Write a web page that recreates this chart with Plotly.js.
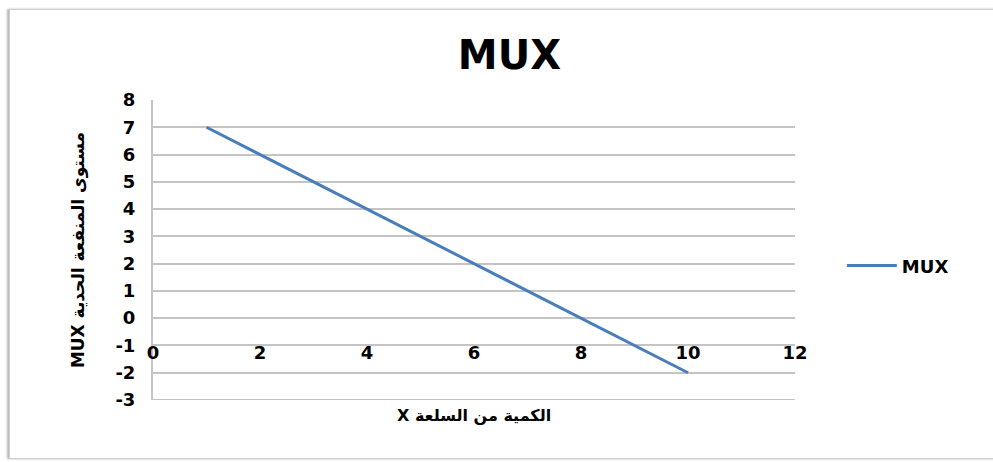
<!DOCTYPE html>
<html>
<head>
<meta charset="utf-8">
<script src="https://cdn.plot.ly/plotly-3.0.1.min.js"></script>
<style>
  html, body { margin: 0; padding: 0; background: #ffffff; }
  #wrap { position: relative; width: 993px; height: 462px; }
  #chart { position: absolute; left: 0; top: 0; width: 993px; height: 462px; }
  #frame {
    position: absolute; left: 9px; top: 9px; width: 990px; height: 448px;
    border: 1px solid #d0d0d0; box-shadow: -2px 0 2px #b8b8b8;
    pointer-events: none;
  }
</style>
</head>
<body>
<div id="wrap">
  <div id="chart"></div>
  <div id="frame"></div>
</div>
<script>
// Quantity of good X and its marginal utility
const quantityX = [1, 2, 3, 4, 5, 6, 7, 8, 9, 10];
const muxValues = [7, 6, 5, 4, 3, 2, 1, 0, -1, -2];

const xTickVals = [0, 2, 4, 6, 8, 10, 12];
const xTickLabels = ['0', '2', '4', '6', '8', '10', '12'];
const yTickVals = [-3, -2, -1, 0, 1, 2, 3, 4, 5, 6, 7, 8];
const yTickLabels = ['-3', '-2', '-1', '0', '1', '2', '3', '4', '5', '6', '7', '8'];

const FONT = 'Liberation Sans, Arial, DejaVu Sans, sans-serif';
const HEAVY = 'DejaVu Sans, Liberation Sans, sans-serif';

const trace = {
  x: quantityX,
  y: muxValues,
  type: 'scatter',
  mode: 'lines',
  name: 'MUX',
  line: { color: '#4a7ebb', width: 3 }
};

const layout = {
  width: 993,
  height: 462,
  margin: { l: 153, r: 198, t: 100, b: 62 },
  paper_bgcolor: '#ffffff',
  plot_bgcolor: '#ffffff',
  font: { family: FONT, color: '#000000' },
  title: {
    text: '<b>MUX</b>',
    font: { family: HEAVY, size: 40, color: '#000000' },
    x: 0.513, xanchor: 'center',
    y: 0.88, yanchor: 'middle'
  },
  xaxis: {
    range: [0, 12],
    anchor: 'free',
    position: 0.2,
    tickmode: 'array',
    tickvals: xTickVals,
    ticktext: xTickLabels,
    showgrid: false,
    zeroline: false,
    showline: false,
    ticks: '',
    tickfont: { family: HEAVY, size: 18, color: '#000000', weight: 'bold' }
  },
  yaxis: {
    range: [-3, 8],
    tickmode: 'array',
    tickvals: yTickVals,
    ticktext: yTickLabels,
    showgrid: true,
    gridcolor: '#c4c4c4',
    gridwidth: 2,
    zeroline: false,
    showline: true,
    linecolor: '#c4c4c4',
    linewidth: 2,
    ticks: '',
    ticklabelstandoff: 12,
    tickfont: { family: HEAVY, size: 18, color: '#000000', weight: 'bold' },
    title: {
      text: '<b>MUX مستوى المنفعة الحدية</b>',
      font: { family: HEAVY, size: 17, color: '#000000' },
      standoff: 26
    }
  },
  shapes: [
    // bottom edge of the plot area at y = -3
    { type: 'line', xref: 'paper', yref: 'y', x0: 0, x1: 1, y0: -3, y1: -3,
      line: { color: '#c4c4c4', width: 2 } }
  ],
  annotations: [
    {
      text: '<b>X الكمية من السلعة</b>',
      xref: 'paper', yref: 'paper',
      x: 0.50, y: -0.012,
      xanchor: 'center', yanchor: 'top',
      showarrow: false,
      font: { family: HEAVY, size: 16, color: '#000000' }
    }
  ],
  showlegend: true,
  legend: {
    x: 1.073, xanchor: 'left',
    y: 0.447, yanchor: 'middle',
    itemwidth: 50,
    font: { family: HEAVY, size: 18, color: '#000000', weight: 'bold' },
    bgcolor: 'rgba(0,0,0,0)'
  }
};

Plotly.newPlot('chart', [trace], layout, { displayModeBar: false, staticPlot: true });
</script>
</body>
</html>
